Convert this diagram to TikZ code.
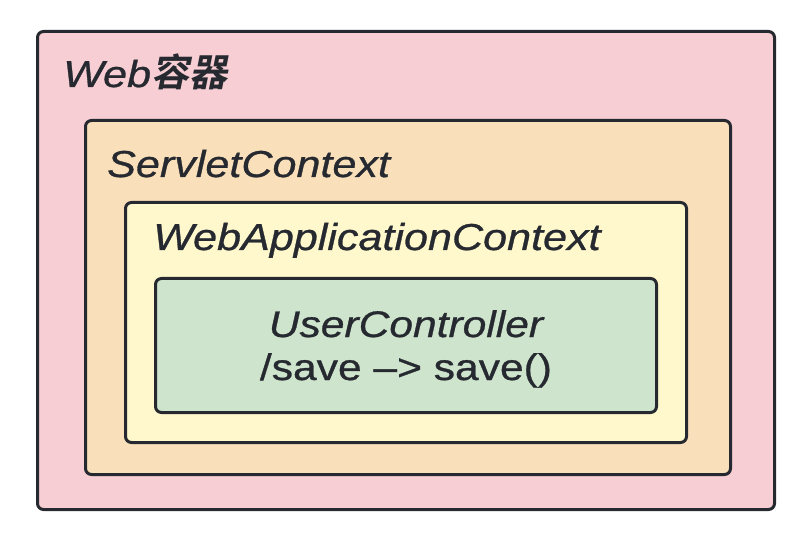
\documentclass[tikz,border=0pt]{standalone}
\usepackage{fontspec}
\setmainfont{Liberation Sans}[FakeStretch=1.15,FakeBold=0.8]
\newfontfamily\cjk{Noto Sans CJK SC Bold}[FakeSlant=0.2]
\usepackage{color}
\definecolor{webpink}{RGB}{246,206,211}
\definecolor{ctxorange}{RGB}{250,224,186}
\definecolor{appyellow}{RGB}{255,248,204}
\definecolor{ctrlgreen}{RGB}{206,228,204}
\definecolor{edgegray}{RGB}{38,42,48}
\usepackage{tikz}
\usetikzlibrary{positioning}
\tikzstyle{box}=[draw=edgegray,line width=3pt,rounded corners=6pt,rectangle,anchor=north west,inner sep=0pt]
\tikzstyle{title}=[anchor=base west,inner sep=0pt,text=edgegray,font=\fontsize{37.5}{40}\selectfont\itshape]
\tikzstyle{label}=[anchor=base,inner sep=0pt,text=edgegray,font=\fontsize{37}{40}\selectfont]
\begin{document}
\begin{tikzpicture}[x=1pt,y=-1pt]
\useasboundingbox (0,0) rectangle (802,534);
\draw (36, 30) node [box, fill=webpink, minimum width=737pt, minimum height=478pt] (web) {};
\draw (84, 119) node [box, fill=ctxorange, minimum width=645pt, minimum height=354pt] (servlet) {};
\draw (124, 201) node [box, fill=appyellow, minimum width=561pt, minimum height=240pt] (webapp) {};
\draw (154, 277) node [box, fill=ctrlgreen, minimum width=501pt, minimum height=134pt] (ctrl) {};
\draw (63, 87) node [title] (webtitle) {Web{\cjk\fontsize{38}{40}\selectfont 容器}};
\draw (107, 177) node [title] (servlettitle) {ServletContext};
\draw (153, 250) node [title] (webapptitle) {WebApplicationContext};
\draw (406, 337) node [label, font=\fontsize{37}{40}\selectfont\itshape] (ctrlname) {UserController};
\draw (406, 380) node [label] (ctrlmap) {/save –> save()};
\end{tikzpicture}
\end{document}
